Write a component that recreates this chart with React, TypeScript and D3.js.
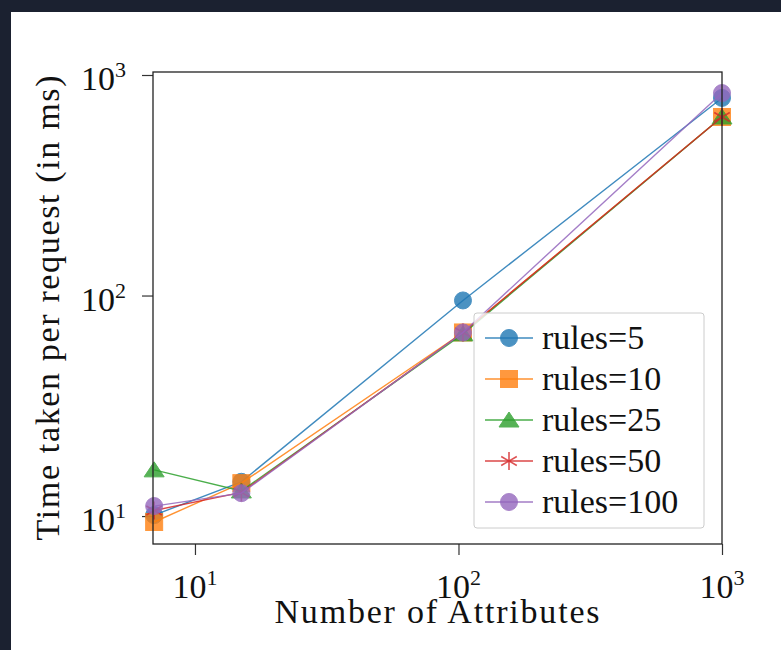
import React, { useRef, useEffect } from 'react';
import * as d3 from 'd3';

// number of attributes on the x axis
const attributes = [7, 15, 104, 1000];

// time per request (ms) for each rule count
const rules5 = [10.1, 14.3, 95, 787];
const rules10 = [9.4, 14.1, 68, 645];
const rules25 = [16.2, 13.0, 67, 645];
const rules50 = [10.6, 12.8, 68, 645];
const rules100 = [11.1, 12.7, 68, 828];

const seriesNames = ['rules=5', 'rules=10', 'rules=25', 'rules=50', 'rules=100'];
const seriesColors = ['#1f77b4', '#ff7f0e', '#2ca02c', '#d62728', '#9467bd'];
const seriesMarkers = ['circle', 'square', 'triangle', 'asterisk', 'circle'];

const xTicks = [10, 100, 1000];
const yTicks = [10, 100, 1000];
const tickExponents = ['1', '2', '3'];

const FONT = "'Liberation Serif', 'DejaVu Serif', serif";

type G = d3.Selection<SVGGElement, unknown, null, undefined>;

function drawMarker(g: G, kind: string, color: string, cx: number, cy: number) {
  const m = g.append('g').attr('transform', `translate(${cx},${cy})`).attr('opacity', 0.8);
  if (kind === 'circle') {
    m.append('circle').attr('r', 8.5).attr('fill', color).attr('stroke', color).attr('stroke-width', 1);
  } else if (kind === 'square') {
    m.append('rect').attr('x', -8.5).attr('y', -8.5).attr('width', 17).attr('height', 17)
      .attr('fill', color).attr('stroke', color).attr('stroke-width', 1);
  } else if (kind === 'triangle') {
    m.append('path').attr('d', 'M0,-8L10,7L-10,7Z').attr('fill', color).attr('stroke', color).attr('stroke-width', 1);
  } else {
    const r = 9;
    const a = Math.PI / 6;
    const d = `M0,${-r}L0,${r}` +
      `M${-r * Math.cos(a)},${-r * Math.sin(a)}L${r * Math.cos(a)},${r * Math.sin(a)}` +
      `M${-r * Math.cos(a)},${r * Math.sin(a)}L${r * Math.cos(a)},${-r * Math.sin(a)}`;
    m.append('path').attr('d', d).attr('fill', 'none').attr('stroke', color).attr('stroke-width', 1.6);
  }
}

const TimingChart: React.FC = () => {
  const svgRef = useRef<SVGSVGElement | null>(null);

  useEffect(() => {
    const width = 781;
    const height = 650;
    const left = 153, right = 722, top = 72, bottom = 544;

    const svg = d3.select(svgRef.current).attr('width', width).attr('height', height);
    svg.selectAll('*').remove();

    svg.append('rect').attr('width', width).attr('height', height).attr('fill', '#ffffff');
    // dark page frame from the screenshot
    svg.append('rect').attr('width', width).attr('height', 12).attr('fill', '#1b2130');
    svg.append('rect').attr('width', 11).attr('height', height).attr('fill', '#1b2130');

    const x = d3.scaleLog().domain([6.93, 1000]).range([left, right]);
    const y = d3.scaleLog().domain([7.47, 1031.8]).range([bottom, top]);

    const root = svg.append('g') as unknown as G;

    // ticks
    const xAxis = root.append('g').attr('transform', `translate(0,${bottom})`)
      .call(d3.axisBottom(x).tickValues(xTicks).tickSize(11).tickFormat(() => ''));
    const yAxis = root.append('g').attr('transform', `translate(${left},0)`)
      .call(d3.axisLeft(y).tickValues(yTicks).tickSize(11).tickFormat(() => ''));
    [xAxis, yAxis].forEach(a => {
      a.select('.domain').remove();
      a.selectAll('line').attr('stroke', '#333').attr('stroke-width', 1.2);
    });

    // tick labels with superscripts
    xTicks.forEach((t, i) => {
      const txt = root.append('text').attr('x', x(t)).attr('y', 598)
        .attr('text-anchor', 'middle').attr('font-family', FONT).attr('font-size', 34).attr('fill', '#111');
      txt.append('tspan').text('10');
      txt.append('tspan').attr('dy', -13).attr('font-size', 22).text(tickExponents[i]);
    });
    yTicks.forEach((t, i) => {
      const txt = root.append('text').attr('x', 126).attr('y', y(t) + 15)
        .attr('text-anchor', 'end').attr('font-family', FONT).attr('font-size', 34).attr('fill', '#111');
      txt.append('tspan').text('10');
      txt.append('tspan').attr('dy', -13).attr('font-size', 22).text(tickExponents[i]);
    });

    // axis labels
    root.append('text').attr('x', 437).attr('y', 623).attr('text-anchor', 'middle')
      .attr('font-family', FONT).attr('font-size', 34).attr('fill', '#111')
      .attr('textLength', 325).text('Number of Attributes');
    root.append('text').attr('transform', 'translate(59,308) rotate(-90)').attr('text-anchor', 'middle')
      .attr('font-family', FONT).attr('font-size', 34).attr('fill', '#111')
      .attr('textLength', 465).text('Time taken per request (in ms)');

    // series
    const allSeries = [rules5, rules10, rules25, rules50, rules100];
    const line = d3.line<number>().x((_, i) => x(attributes[i])).y(d => y(d));
    allSeries.forEach((vals, s) => {
      root.append('path').attr('d', line(vals)!).attr('fill', 'none')
        .attr('stroke', seriesColors[s]).attr('stroke-width', 1.4).attr('opacity', 0.85);
      vals.forEach((v, i) => drawMarker(root, seriesMarkers[s], seriesColors[s], x(attributes[i]), y(v)));
    });

    // spines
    root.append('rect').attr('x', left).attr('y', top).attr('width', right - left).attr('height', bottom - top)
      .attr('fill', 'none').attr('stroke', '#222').attr('stroke-width', 1.3);

    // legend
    const lg = root.append('g');
    lg.append('rect').attr('x', 474).attr('y', 313).attr('width', 230).attr('height', 215).attr('rx', 3)
      .attr('fill', '#ffffff').attr('fill-opacity', 0.8).attr('stroke', '#cccccc').attr('stroke-width', 1);
    seriesNames.forEach((name, s) => {
      const ly = 338 + s * 41;
      lg.append('line').attr('x1', 485).attr('x2', 533).attr('y1', ly).attr('y2', ly)
        .attr('stroke', seriesColors[s]).attr('stroke-width', 1.4).attr('opacity', 0.85);
      drawMarker(lg as unknown as G, seriesMarkers[s], seriesColors[s], 509, ly);
      lg.append('text').attr('x', 542).attr('y', ly + 11).attr('font-family', FONT)
        .attr('font-size', 34).attr('fill', '#111').text(name);
    });
  }, []);

  return <svg ref={svgRef} style={{ position: 'absolute', left: 0, top: 0, display: 'block' }}></svg>;
};

export default function App() {
  return <TimingChart />;
}
